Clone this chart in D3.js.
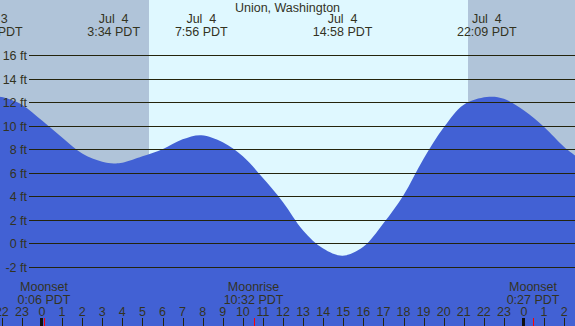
<!DOCTYPE html>
<html>
<head>
<meta charset="utf-8">
<script src="https://cdn.jsdelivr.net/npm/d3@7/dist/d3.min.js"></script>
<style>
  html, body { margin: 0; padding: 0; background: #fff; }
  svg { display: block; }
  text { font-family: "Liberation Sans", Arial, sans-serif; font-size: 12.5px; fill: #33331f; white-space: pre; }
</style>
</head>
<body>
<svg id="chart" width="575" height="326"></svg>
<script>
// ---- data (hours relative to Jul 4 00:00 PDT) ----
const title = "Union, Washington";
const tideHours = [-2.45, -2, -1, 0, 1, 2, 3, 3.57, 4, 5, 6, 7, 7.93, 9, 10, 11, 12, 13, 14, 14.97, 16, 17, 18, 19, 20, 21, 22.15, 23, 24, 25, 26, 26.6];
const tideFeet  = [12.5, 12.45, 11.8, 10.45, 9.0, 7.65, 6.95, 6.8, 6.85, 7.4, 8.0, 8.85, 9.2, 8.6, 7.4, 5.55, 3.5, 1.1, -0.45, -1.05, -0.3, 1.7, 4.1, 7.2, 9.85, 11.8, 12.45, 12.3, 11.3, 9.9, 8.2, 7.4];
const extremaHours = [-2.45, 3.567, 7.933, 14.967, 22.15];
const extremaDates = ["Jul  3", "Jul  4", "Jul  4", "Jul  4", "Jul  4"];
const extremaTimes = ["21:33 PDT", "3:34 PDT", "7:56 PDT", "14:58 PDT", "22:09 PDT"];
const sunriseHour = 5.33;
const sunsetHour = 21.21;
const feetTicks = [-2, 0, 2, 4, 6, 8, 10, 12, 14, 16];
const hourTicks = [-2, -1, 0, 1, 2, 3, 4, 5, 6, 7, 8, 9, 10, 11, 12, 13, 14, 15, 16, 17, 18, 19, 20, 21, 22, 23, 24, 25, 26];
const midnightHours = [0, 24];
const moonHours = [0.1, 10.533, 24.45];
const moonNames = ["Moonset", "Moonrise", "Moonset"];
const moonTimes = ["0:06 PDT", "10:32 PDT", "0:27 PDT"];

// ---- layout ----
const W = 575, H = 326;
const svg = d3.select("#chart");
const x = d3.scaleLinear().domain([0, 24]).range([42, 524]);
const y = d3.scaleLinear().domain([-2, 16]).range([266.8, 55.3]);

const colNight = "#b0c4d9", colDay = "#dff8ff", colWater = "#4261d4", colLine = "#24240c";

// night background
svg.append("rect").attr("x", 0).attr("y", 0).attr("width", W).attr("height", H).attr("fill", colNight);
// daylight
svg.append("rect")
  .attr("x", Math.round(x(sunriseHour))).attr("y", 0)
  .attr("width", Math.round(x(sunsetHour)) - Math.round(x(sunriseHour)))
  .attr("height", H).attr("fill", colDay);

// water
const pts = tideHours.map((h, i) => [h, tideFeet[i]]);
const area = d3.area()
  .x(d => x(d[0]))
  .y0(H)
  .y1(d => y(d[1]))
  .curve(d3.curveCatmullRom.alpha(0.5));
svg.append("path").datum(pts).attr("d", area).attr("fill", colWater);

// grid lines and labels
const gy = svg.append("g");
feetTicks.forEach(f => {
  const yy = Math.round(y(f)) + 0.5;
  gy.append("line").attr("x1", 29).attr("x2", W).attr("y1", yy).attr("y2", yy)
    .attr("stroke", colLine).attr("stroke-width", 1).attr("shape-rendering", "crispEdges");
  gy.append("text").attr("x", 27).attr("y", yy + 4.5).attr("text-anchor", "end").text(f + " ft");
});

// title
svg.append("text").attr("x", W / 2).attr("y", 12).attr("text-anchor", "middle").text(title);

// extrema labels
extremaHours.forEach((h, i) => {
  const xx = x(h);
  svg.append("text").attr("x", xx).attr("y", 23).attr("text-anchor", "middle").text(extremaDates[i]);
  svg.append("text").attr("x", xx).attr("y", 36).attr("text-anchor", "middle").text(extremaTimes[i]);
});

// hour axis
const hourLabel = h => String(((h % 24) + 24) % 24);
hourTicks.forEach(h => {
  const xx = Math.round(x(h)) + 0.5;
  svg.append("line").attr("x1", xx).attr("x2", xx).attr("y1", 318).attr("y2", H)
    .attr("stroke", colLine).attr("stroke-width", 1).attr("shape-rendering", "crispEdges");
  svg.append("text").attr("x", x(h)).attr("y", 316).attr("text-anchor", "middle").text(hourLabel(h));
});
midnightHours.forEach(h => {
  svg.append("rect").attr("x", Math.round(x(h)) - 2).attr("y", 318).attr("width", 3).attr("height", H - 318)
    .attr("fill", "#111");
});

// moon events
moonHours.forEach((h, i) => {
  const xx = Math.round(x(h)) + 0.5;
  svg.append("line").attr("x1", xx).attr("x2", xx).attr("y1", 318).attr("y2", H)
    .attr("stroke", "#ff0000").attr("stroke-width", 1).attr("shape-rendering", "crispEdges");
  svg.append("text").attr("x", x(h)).attr("y", 291).attr("text-anchor", "middle").text(moonNames[i]);
  svg.append("text").attr("x", x(h)).attr("y", 303.5).attr("text-anchor", "middle").text(moonTimes[i]);
});
</script>
</body>
</html>
